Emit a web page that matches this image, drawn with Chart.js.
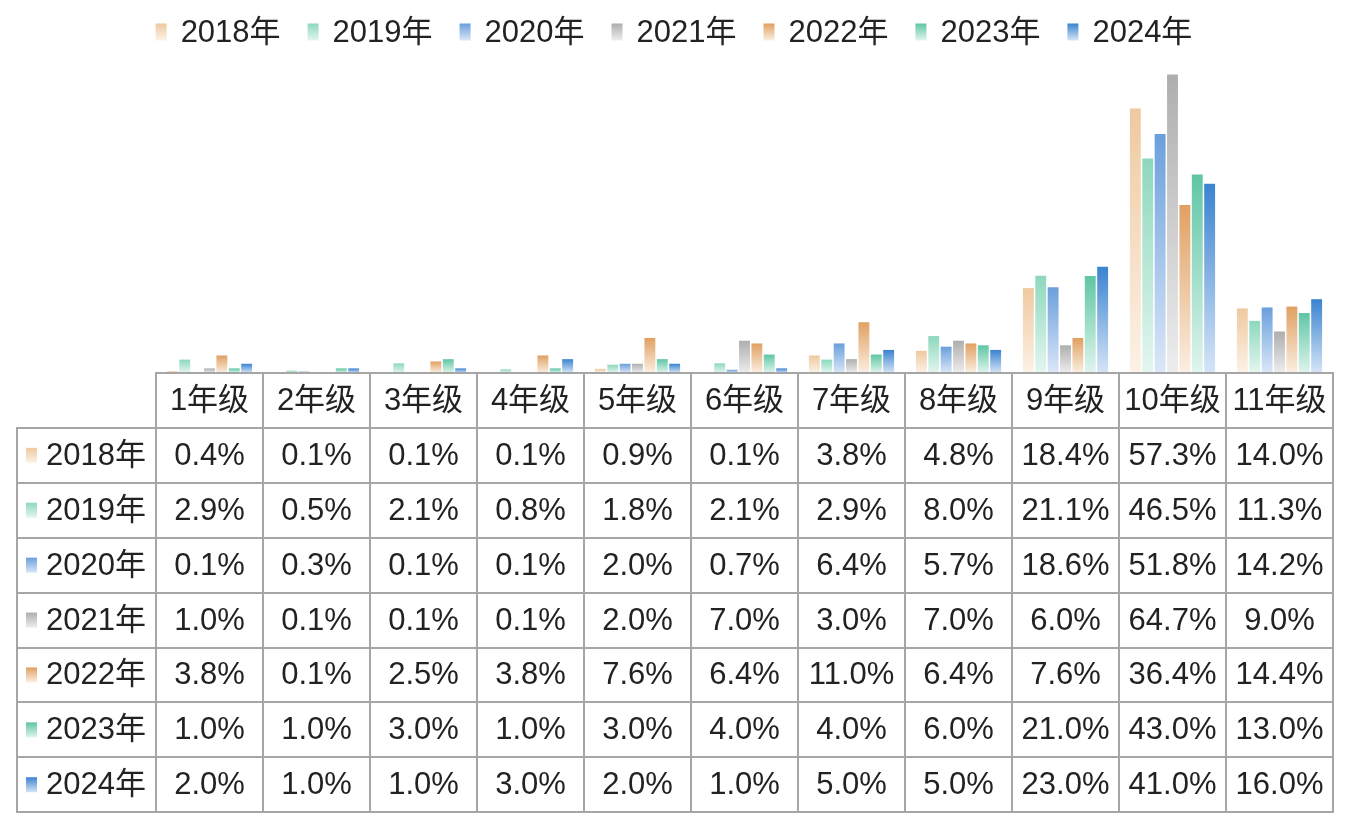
<!DOCTYPE html>
<html>
<head>
<meta charset="utf-8">
<script src="https://cdn.jsdelivr.net/npm/chart.js@4"></script>
<style>
  html, body { margin: 0; padding: 0; background: #fff; }
  #wrap { width: 1348px; height: 827px; }
</style>
</head>
<body>
<div id="wrap"><canvas id="gradeChart" width="1348" height="827"></canvas></div>
<script>
// kategorie i serie
const grades = ['1年级', '2年级', '3年级', '4年级', '5年级', '6年级', '7年级', '8年级', '9年级', '10年级', '11年级'];
const years = ['2018年', '2019年', '2020年', '2021年', '2022年', '2023年', '2024年'];

const y2018 = [0.4, 0.1, 0.1, 0.1, 0.9, 0.1, 3.8, 4.8, 18.4, 57.3, 14.0];
const y2019 = [2.9, 0.5, 2.1, 0.8, 1.8, 2.1, 2.9, 8.0, 21.1, 46.5, 11.3];
const y2020 = [0.1, 0.3, 0.1, 0.1, 2.0, 0.7, 6.4, 5.7, 18.6, 51.8, 14.2];
const y2021 = [1.0, 0.1, 0.1, 0.1, 2.0, 7.0, 3.0, 7.0, 6.0, 64.7, 9.0];
const y2022 = [3.8, 0.1, 2.5, 3.8, 7.6, 6.4, 11.0, 6.4, 7.6, 36.4, 14.4];
const y2023 = [1.0, 1.0, 3.0, 1.0, 3.0, 4.0, 4.0, 6.0, 21.0, 43.0, 13.0];
const y2024 = [2.0, 1.0, 1.0, 3.0, 2.0, 1.0, 5.0, 5.0, 23.0, 41.0, 16.0];
const seriesValues = [y2018, y2019, y2020, y2021, y2022, y2023, y2024];

const topColors = ['#efc9a0', '#8dd8bd', '#6a9fdc', '#aeaeae', '#e0a062', '#5fc6a5', '#3a83d0'];
const bottomColors = ['#fcf2e7', '#e4f6ef', '#dbe7f8', '#ededed', '#fbefe2', '#e0f5ed', '#d6e5f7'];

const FONT = '"Liberation Sans", Arial, "Noto Sans CJK SC", sans-serif';
const FONT_SIZE = 31;
const TEXT_COLOR = '#222222';
const LINE_COLOR = '#a6a6a6';

// gradient dla kazdego slupka osobno
function barGradient(i) {
    return function(ctx) {
        const chart = ctx.chart;
        if (!chart.chartArea || ctx.type !== 'data') return topColors[i];
        const yScale = chart.scales.y;
        const top = yScale.getPixelForValue(ctx.parsed.y);
        const base = yScale.getPixelForValue(0);
        if (base - top < 1) return topColors[i];
        const g = chart.ctx.createLinearGradient(0, top, 0, base);
        g.addColorStop(0, topColors[i]);
        g.addColorStop(1, bottomColors[i]);
        return g;
    };
}

function boxGradient(ctx, i, x, y, w, h) {
    const g = ctx.createLinearGradient(0, y, 0, y + h);
    g.addColorStop(0, topColors[i]);
    g.addColorStop(1, bottomColors[i]);
    ctx.fillStyle = g;
    ctx.fillRect(x, y, w, h);
}

// legenda rysowana recznie (na gorze)
const legendPlugin = {
    id: 'topLegend',
    afterDraw(chart) {
        const ctx = chart.ctx;
        ctx.save();
        ctx.font = FONT_SIZE + 'px ' + FONT;
        ctx.textBaseline = 'middle';
        ctx.textAlign = 'left';
        const boxW = 11, boxH = 17, gapText = 14, gapItem = 27;
        const widths = years.map(t => boxW + gapText + ctx.measureText(t).width);
        const total = widths.reduce((a, b) => a + b, 0) + gapItem * (years.length - 1);
        let x = (chart.width - total) / 2;
        const cy = 32;
        years.forEach((t, i) => {
            boxGradient(ctx, i, x, cy - boxH / 2, boxW, boxH);
            ctx.fillStyle = TEXT_COLOR;
            ctx.fillText(t, x + boxW + gapText, cy + 1);
            x += widths[i] + gapItem;
        });
        ctx.restore();
    }
};

// tabela danych pod wykresem
const tablePlugin = {
    id: 'dataTable',
    afterDraw(chart) {
        const ctx = chart.ctx;
        const xs = chart.scales.x;
        const area = chart.chartArea;
        const n = grades.length;
        const colW = (area.right - area.left) / n;
        const tableLeft = 17;
        const top = area.bottom;
        const rowH = 54.9;
        const bottom = top + rowH * (years.length + 1);

        ctx.save();
        ctx.strokeStyle = LINE_COLOR;
        ctx.lineWidth = 2;
        ctx.beginPath();
        // poziome linie
        ctx.moveTo(area.left, top);
        ctx.lineTo(area.right, top);
        for (let r = 1; r <= years.length + 1; r++) {
            const y = Math.round(top + r * rowH);
            ctx.moveTo(tableLeft - 1, y);
            ctx.lineTo(area.right + 1, y);
        }
        // pionowe linie
        ctx.moveTo(tableLeft, top + rowH);
        ctx.lineTo(tableLeft, bottom);
        for (let c = 0; c <= n; c++) {
            const x = Math.round(area.left + c * colW);
            ctx.moveTo(x, top - 1);
            ctx.lineTo(x, bottom);
        }
        ctx.stroke();

        ctx.font = FONT_SIZE + 'px ' + FONT;
        ctx.fillStyle = TEXT_COLOR;
        ctx.textBaseline = 'middle';
        ctx.textAlign = 'center';
        grades.forEach((g, c) => {
            ctx.fillText(g, xs.getPixelForValue(c), top + rowH / 2 + 1);
        });
        years.forEach((yr, r) => {
            const cy = top + (r + 1.5) * rowH;
            boxGradient(ctx, r, 26, cy - 7.5, 11, 15);
            ctx.fillStyle = TEXT_COLOR;
            ctx.textAlign = 'left';
            ctx.fillText(yr, 46, cy + 1);
            ctx.textAlign = 'center';
            seriesValues[r].forEach((v, c) => {
                ctx.fillText(v.toFixed(1) + '%', xs.getPixelForValue(c), cy + 1);
            });
        });
        ctx.restore();
    }
};

const ctxEl = document.getElementById('gradeChart');
const gradeChart = new Chart(ctxEl, {
    type: 'bar',
    data: {
        labels: grades,
        datasets: years.map((yr, i) => ({
            label: yr,
            data: seriesValues[i],
            backgroundColor: barGradient(i),
            borderWidth: 0,
            barPercentage: 0.88,
            categoryPercentage: 0.81
        }))
    },
    options: {
        responsive: false,
        animation: false,
        layout: {
            padding: { top: 50, left: 156, right: 15, bottom: 454 }
        },
        plugins: {
            legend: { display: false },
            tooltip: { enabled: false }
        },
        scales: {
            x: { display: false },
            y: { display: false, min: 0, max: 70 }
        }
    },
    plugins: [legendPlugin, tablePlugin]
});
</script>
</body>
</html>
